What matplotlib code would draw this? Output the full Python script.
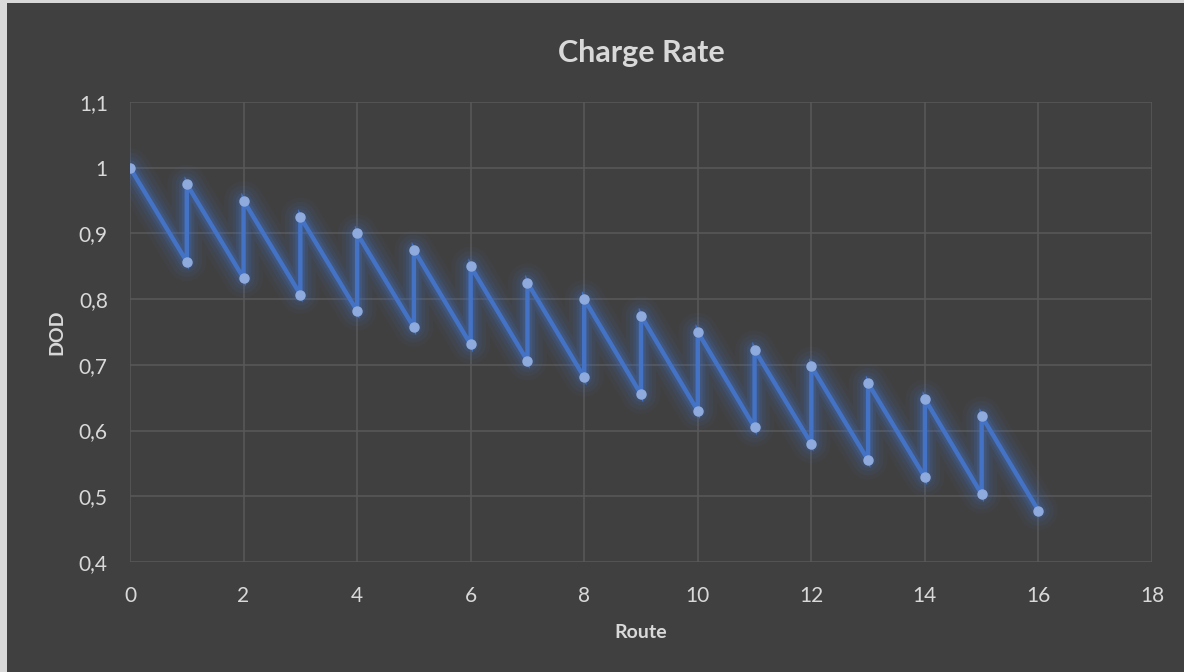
import matplotlib.pyplot as plt
import matplotlib.patches as mpatches
from matplotlib.ticker import FuncFormatter

# route index and depth-of-discharge before / after each charge stop
route = [0, 1, 1, 2, 2, 3, 3, 4, 4, 5, 5, 6, 6, 7, 7, 8, 8,
         9, 9, 10, 10, 11, 11, 12, 12, 13, 13, 14, 14, 15, 15, 16]
dod = [1.0, 0.857, 0.975, 0.832, 0.95, 0.807, 0.925, 0.782, 0.90,
       0.757, 0.875, 0.731, 0.85, 0.706, 0.825, 0.681, 0.80,
       0.655, 0.775, 0.63, 0.75, 0.605, 0.723, 0.58, 0.698,
       0.555, 0.672, 0.529, 0.648, 0.503, 0.622, 0.478]

x_ticks = [0, 2, 4, 6, 8, 10, 12, 14, 16, 18]
y_ticks = [0.4, 0.5, 0.6, 0.7, 0.8, 0.9, 1.0, 1.1]

plt.rcParams['font.family'] = ['Lato', 'DejaVu Sans']

bg = '#404040'
txt = '#d9d9d9'
grid = '#595959'
line_col = '#4472c4'
marker_col = '#8faadc'

fig = plt.figure(figsize=(11.84, 6.72), dpi=100)
fig.patch.set_facecolor('#d9d9d9')
fig.patches.append(mpatches.Rectangle((7 / 1184, 0), 1, 1 - 3 / 672,
                                      transform=fig.transFigure,
                                      facecolor=bg, edgecolor='none', zorder=-10))

ax = fig.add_axes([130 / 1184, 1 - 562 / 672, (1152 - 130) / 1184, (562 - 102) / 672])
ax.set_facecolor(bg)

# soft glow under the line
for w, a in [(28, 0.05), (22, 0.07), (16, 0.10), (11, 0.15), (7, 0.22)]:
    ax.plot(route, dod, color=line_col, lw=w, alpha=a,
            solid_capstyle='round', solid_joinstyle='round', zorder=2)
ax.plot(route, dod, color=line_col, lw=3.2, zorder=3,
        marker='o', markersize=6.5, markerfacecolor=marker_col,
        markeredgecolor=marker_col, solid_joinstyle='miter')

ax.set_xlim(0, 18)
ax.set_ylim(0.4, 1.1)
ax.set_xticks(x_ticks)
ax.set_yticks(y_ticks)
ax.yaxis.set_major_formatter(FuncFormatter(lambda v, p: f'{v:g}'.replace('.', ',')))
ax.grid(True, color=grid, lw=1.1)
ax.set_axisbelow(True)
for s in ax.spines.values():
    s.set_visible(False)
ax.tick_params(colors=txt, labelsize=15, length=0)
ax.tick_params(axis='x', pad=17)
ax.tick_params(axis='y', pad=16)

ax.set_title('Charge Rate', color=txt, fontsize=22, fontweight='bold', pad=29)
ax.set_xlabel('Route', color=txt, fontsize=14, fontweight='bold', labelpad=13)
ax.set_ylabel('DOD', color=txt, fontsize=14, fontweight='bold', labelpad=10)

fig.savefig('out.png', dpi=100, facecolor=fig.get_facecolor())
